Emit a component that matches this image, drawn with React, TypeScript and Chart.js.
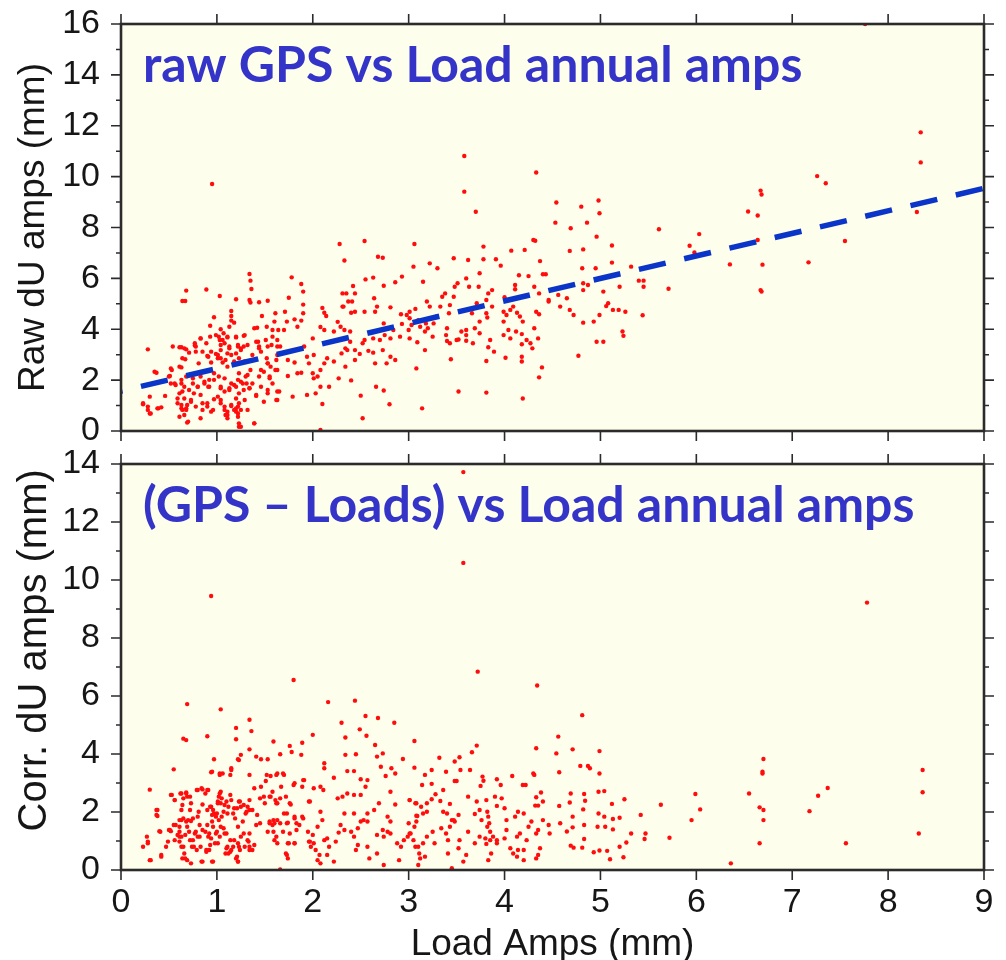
import React, { useEffect, useRef } from 'react';
import { Chart, registerables } from 'chart.js';

Chart.register(...registerables);

// ---------- data ----------
const xTickValues = [0, 1, 2, 3, 4, 5, 6, 7, 8, 9];
const rawYMax = 16;
const corrYMax = 14;
const yLabelStep = 2;
const yMinorStep = 1;

const fitX = [0, 9];
const fitY = [1.57, 9.54];

const topTitle = 'raw GPS vs Load annual amps';
const bottomTitle = '(GPS \u2013 Loads) vs Load annual amps';
const rawYLabel = 'Raw dU amps (mm)';
const corrYLabel = '   Corr. dU amps (mm)';
const xLabel = 'Load Amps (mm)';

// raw GPS amplitude vs load amplitude, x < 2.4
const rawPointsLow: number[][] = [
  [2.28,7.35],[2.33,6.70],[1.34,6.17],[1.35,5.91],[1.36,5.58],[0.68,5.52],[0.89,5.56],[1.03,5.31],[0.64,5.11],[0.67,5.11],
  [1.20,5.18],[1.34,5.15],[1.35,5.05],[1.44,5.06],[1.53,5.12],[1.78,6.04],[1.88,5.78],[1.90,5.48],[1.75,5.24],[1.90,4.97],
  [1.90,4.63],[2.10,4.84],[2.12,4.65],[2.14,4.52],[2.31,5.41],[2.37,5.09],[2.31,4.89],[2.40,4.65],[1.15,4.72],[1.15,4.52],
  [1.15,4.34],[1.18,4.26],[1.13,4.10],[0.97,4.47],[0.93,4.14],[1.04,4.00],[1.07,3.84],[1.06,3.58],[1.02,3.71],[1.11,3.68],
  [1.20,3.68],[1.28,3.74],[1.39,4.04],[1.47,4.52],[1.52,4.10],[1.61,4.63],[1.60,4.30],[1.71,4.69],[1.73,4.30],[1.81,4.39],
  [1.88,4.34],[1.84,4.10],[2.08,4.09],[2.12,3.97],[2.26,4.29],[2.29,4.10],[2.22,3.91],[2.33,3.97],[2.39,3.91],[0.83,3.64],
  [0.89,3.45],[0.77,3.36],[0.66,3.25],[0.61,3.29],[0.54,3.32],[0.28,3.21],[0.37,2.29],[0.53,2.40],[0.51,2.16],[0.64,2.86],
  [0.67,2.82],[0.63,2.50],[0.81,2.66],[0.78,3.12],[0.90,2.95],[0.94,2.69],[0.99,3.03],[1.04,3.18],[1.01,2.86],[1.06,2.69],
  [1.11,3.05],[1.13,3.25],[1.22,3.32],[1.20,3.05],[1.25,3.18],[1.28,3.32],[1.32,3.38],[1.29,2.73],[1.35,2.40],[1.32,2.20],
  [1.23,2.27],[1.25,1.94],[1.20,1.74],[1.15,1.87],[1.08,2.07],[1.02,2.14],[0.97,2.27],[0.92,2.01],[0.87,1.87],[0.83,2.14],
  [0.75,2.07],[0.68,2.14],[0.63,1.87],[0.61,1.48],[0.59,1.09],[0.63,0.89],[0.68,0.83],[0.73,1.22],[0.76,1.48],[0.83,1.42],
  [0.85,1.09],[0.90,1.09],[0.94,0.76],[0.97,1.25],[1.04,1.09],[1.08,0.83],[1.11,0.63],[1.15,0.98],[1.18,0.83],[1.20,1.28],
  [1.23,1.48],[1.28,1.61],[1.31,1.87],[1.34,1.68],[1.41,1.38],[1.22,0.96],[1.22,0.56],[1.23,0.30],[1.25,0.17],[1.39,0.30],
  [1.13,1.61],[1.04,1.68],[1.01,1.35],[0.91,1.74],[0.80,1.74],[0.66,1.74],[0.57,1.81],[0.52,1.87],[0.46,1.38],[0.42,0.93],
  [0.39,0.89],[0.30,1.35],[0.28,0.96],[0.31,0.69],[0.23,1.05],[0.69,0.33],[0.83,0.50],[1.20,0.76],[1.46,2.40],[1.44,2.14],
  [1.52,2.86],[1.53,2.66],[1.56,2.53],[1.61,2.40],[1.55,2.07],[1.63,3.58],[1.66,3.32],[1.70,3.97],[1.74,2.79],[1.74,2.16],
  [1.81,2.69],[1.84,2.27],[1.88,2.29],[1.94,2.92],[1.96,2.66],[2.01,2.99],[2.00,2.27],[2.01,2.07],[2.05,2.14],[2.08,2.40],
  [2.12,2.66],[2.15,2.86],[2.22,2.73],[2.27,2.07],[2.30,3.05],[2.36,3.18],[2.08,1.74],[2.17,1.74],[2.10,1.06],[1.94,1.42],
  [2.03,1.48],[1.79,1.35],[1.65,1.55],[1.63,1.22],[1.46,3.12],[1.41,3.51],[1.44,3.25],[1.58,3.97],[1.57,3.38],[1.64,3.97],
  [1.63,2.99],[1.42,4.06],[1.51,3.58],[1.37,2.99],[1.91,3.32],[2.00,3.64],[2.08,0.04],[0.66,0.63],[0.69,1.02],[0.95,9.71],
];

// extra points read from the dense cluster at x < 1.7, y < 4
const rawPointsDense: number[][] = [
  [0.63,3.29],[0.68,3.21],[0.71,3.08],[0.77,3.45],[0.78,3.32],[0.83,3.64],[0.85,3.12],[0.91,2.92],[0.94,3.12],[0.93,3.71],
  [0.99,3.77],[1.03,3.58],[1.04,3.38],[1.08,3.45],[1.11,3.71],[1.13,3.32],[1.20,3.71],[1.22,3.38],[1.25,3.25],[1.29,3.77],
  [1.01,2.99],[1.04,2.86],[1.09,2.79],[1.15,2.99],[1.18,2.73],[1.23,2.86],[1.11,2.53],[1.43,3.51],[1.44,3.32],[1.53,3.32],
  [1.58,3.71],[1.63,3.32],[1.62,2.79],[1.53,2.66],[1.49,2.33],[1.55,2.14],[1.63,2.40],[1.58,1.87],[1.63,1.55],[1.53,1.61],
  [1.62,1.22],[0.35,2.33],[0.52,2.46],[0.50,2.14],[0.56,1.87],[0.61,2.53],[0.63,2.01],[0.64,1.55],[0.66,1.28],[0.71,1.61],
  [0.75,1.87],[0.80,1.74],[0.87,1.94],[0.92,1.74],[0.97,2.01],[1.04,1.74],[1.08,1.55],[1.13,1.68],[1.18,1.81],[1.22,2.01],
  [1.27,1.87],[1.30,2.14],[1.34,1.68],[1.37,1.87],[0.59,1.28],[0.63,1.02],[0.64,0.83],[0.68,0.89],[0.73,1.15],[0.78,0.96],
  [0.85,0.83],[0.90,0.96],[0.96,0.83],[1.04,1.22],[1.08,0.96],[1.11,0.76],[1.15,1.02],[1.20,0.89],[1.23,1.09],[1.22,0.69],
  [1.25,0.83],[1.32,0.83],[1.29,1.22],[0.23,1.09],[0.28,0.83],[0.30,0.69],[0.38,0.89],[0.61,0.56],[0.70,0.37],[1.11,0.50],
  [1.09,0.63],[1.39,0.30],[1.23,0.17],[1.41,1.42],[1.46,1.74],[1.53,1.48],[1.49,1.15],
];

// raw GPS amplitude vs load amplitude, 2.3 < x < 5.4
const rawPointsMid: number[][] = [
  [3.58,10.81],[3.58,9.41],[3.70,8.62],[4.33,10.16],[4.54,8.98],[4.53,8.19],[4.80,8.82],[4.98,9.06],[4.99,8.56],[4.86,8.19],
  [4.69,7.97],[4.30,7.51],[4.32,7.48],[2.54,7.47],[3.06,7.35],[2.68,6.85],[2.73,6.81],[3.05,6.46],[3.22,6.59],[3.30,6.40],
  [3.47,6.79],[3.62,6.72],[3.78,7.25],[3.78,6.75],[3.91,6.75],[3.96,6.50],[4.07,7.09],[4.21,7.12],[4.37,6.68],[4.43,6.16],
  [4.68,7.08],[4.82,7.14],[4.96,7.64],[5.12,7.29],[5.12,6.62],[5.32,6.46],[5.40,5.91],[4.81,6.40],[4.82,5.81],[4.87,5.74],
  [5.20,5.67],[4.95,6.40],[5.03,5.48],[4.82,5.54],[4.56,5.35],[4.65,5.22],[4.46,5.15],[4.36,5.41],[4.31,5.67],[4.40,6.16],
  [4.25,6.09],[4.15,6.12],[4.11,5.74],[4.11,5.57],[4.00,5.26],[3.87,5.54],[3.83,5.41],[3.81,5.15],[3.74,6.20],[3.73,5.67],
  [3.63,5.67],[3.60,6.00],[3.51,5.81],[3.48,5.67],[3.47,5.28],[3.43,4.95],[3.42,4.63],[3.38,5.41],[3.35,5.28],[3.33,4.89],
  [3.19,5.09],[3.22,4.89],[3.15,5.87],[2.93,6.07],[2.86,5.85],[2.74,5.71],[2.63,6.03],[2.64,5.22],[2.55,5.96],[2.42,5.70],
  [2.44,5.41],[2.35,5.41],[2.32,4.89],[2.41,5.09],[2.44,4.69],[2.54,4.69],[2.67,4.89],[2.65,4.69],[2.74,4.23],[2.81,4.86],
  [2.92,4.59],[3.01,4.69],[3.01,4.43],[3.07,4.80],[3.18,4.23],[3.20,4.04],[3.26,4.23],[3.29,4.50],[3.40,4.04],[3.39,3.77],
  [3.43,3.45],[3.50,3.58],[3.60,3.97],[3.60,3.77],[3.69,4.04],[3.81,4.63],[3.82,4.46],[3.87,4.89],[3.99,4.69],[3.99,4.30],
  [4.02,4.56],[4.06,4.76],[4.09,4.89],[4.13,4.65],[4.16,4.50],[4.19,4.30],[4.12,3.91],[4.04,3.97],[3.99,3.77],[4.06,3.64],
  [4.18,3.81],[4.23,3.58],[4.27,3.45],[4.29,3.25],[4.18,3.41],[4.33,4.69],[4.36,4.59],[4.31,4.04],[4.35,3.64],[4.39,2.50],
  [4.36,2.11],[3.85,3.58],[3.83,3.29],[3.89,3.12],[3.81,2.75],[4.01,2.88],[4.18,2.92],[4.18,2.73],[4.19,1.28],[3.81,1.51],
  [3.52,1.55],[3.14,0.89],[2.80,1.05],[2.74,1.59],[2.66,1.74],[2.50,1.39],[2.52,0.50],[2.40,1.99],[3.08,2.46],[3.17,3.18],
  [3.09,3.49],[3.01,3.64],[3.00,3.97],[2.93,4.21],[2.91,3.71],[2.84,3.97],[2.81,3.64],[2.75,3.77],[2.70,3.58],[2.73,3.18],
  [2.81,2.92],[2.86,2.79],[2.77,2.66],[2.65,2.66],[2.63,3.08],[2.58,3.15],[2.49,3.03],[2.44,2.79],[2.44,3.18],[2.39,3.51],
  [2.34,3.25],[2.34,2.53],[2.54,3.58],[2.52,3.45],[2.63,3.64],[3.17,3.91],[3.25,3.71],[3.40,3.54],[3.52,3.60],[3.60,3.55],
  [3.44,2.82],[4.77,2.96],[4.96,3.51],[5.03,3.51],[4.93,4.30],[4.82,4.26],[4.72,4.56],[4.68,4.76],[4.58,4.89],[4.46,5.09],
  [4.99,4.56],[5.06,4.91],[5.13,4.76],[5.19,4.76],[5.26,4.69],[5.23,3.91],[5.24,3.74],[5.08,5.02],[2.98,4.56],[3.03,4.17],
  [3.12,4.10],[3.10,4.36],[3.66,4.63],[3.71,5.02],[3.74,4.30],[3.74,3.84],[3.67,3.45],[3.55,3.91],
];

// raw GPS amplitude vs load amplitude, x > 5.4
const rawPointsHigh: number[][] = [
  [7.76,16.0],[8.34,11.74],[8.34,10.56],[8.30,8.61],[7.26,10.02],[7.35,9.74],[7.55,7.47],[7.17,6.63],[6.67,9.45],[6.68,9.30],
  [6.54,8.63],[6.64,8.47],[6.64,7.51],[6.69,6.54],[6.67,5.54],[6.68,5.48],[6.35,6.55],[6.03,7.74],[5.93,7.28],[5.98,7.02],
  [5.61,7.93],[5.71,5.59],[5.45,5.91],[5.45,5.67],[5.44,4.55],
];

// corrected (GPS - loads) amplitude vs load amplitude, x < 3.1
const corrPointsLow: number[][] = [
  [1.80,6.55],[0.69,5.72],[1.04,5.54],[0.65,4.53],[0.68,4.48],[0.90,4.61],[1.20,4.90],[1.20,4.51],[1.34,5.18],[1.36,4.79],
  [1.34,4.16],[0.55,3.47],[0.30,2.77],[0.97,3.82],[0.94,3.37],[1.03,3.28],[1.15,3.51],[1.23,3.79],[1.25,3.97],[1.41,3.91],
  [1.46,3.82],[1.53,3.82],[1.59,4.43],[1.66,3.99],[1.76,4.28],[1.89,4.39],[1.78,4.07],[1.88,3.97],[2.00,4.66],[2.16,5.79],
  [2.44,5.84],[2.30,5.08],[2.55,5.31],[2.68,5.24],[2.85,5.08],[2.49,4.85],[2.56,4.63],[2.34,4.57],[2.65,4.31],[2.45,3.99],
  [2.34,3.97],[2.67,3.91],[2.73,4.02],[2.94,3.83],[3.06,4.45],[3.06,3.53],[2.71,3.56],[2.82,3.51],[2.86,3.33],[2.76,3.24],
  [2.50,3.13],[2.57,3.10],[2.36,3.41],[2.43,3.41],[2.12,3.68],[2.12,3.51],[2.22,3.18],[2.81,2.70],[2.69,2.30],[2.86,2.26],
  [3.01,2.41],[3.07,2.30],[3.09,1.86],[3.00,1.61],[1.22,3.82],[1.15,3.45],[1.06,3.33],[0.80,2.76],[0.90,2.76],[0.85,2.78],
  [0.52,2.59],[0.63,2.64],[0.68,2.67],[0.56,2.41],[0.69,2.53],[0.64,2.24],[0.73,2.30],[0.38,2.07],[0.38,1.86],[0.40,1.34],
  [0.50,1.38],[0.52,1.34],[0.57,1.55],[0.61,1.49],[0.63,1.72],[0.68,1.67],[0.73,1.69],[0.80,1.84],[0.85,2.26],[0.90,2.07],
  [0.94,2.18],[0.97,1.95],[1.01,2.36],[1.04,2.30],[1.02,2.53],[1.08,2.24],[1.04,2.70],[1.15,2.41],[1.18,2.13],[1.11,1.95],
  [1.23,2.36],[1.25,2.18],[1.32,2.18],[1.37,2.07],[1.30,1.95],[1.34,2.41],[1.39,2.82],[1.46,2.87],[1.49,2.53],[1.56,2.53],
  [1.61,2.41],[1.63,2.30],[1.42,1.90],[1.55,1.67],[1.60,1.61],[1.63,1.72],[1.58,1.55],[1.70,1.95],[1.74,1.63],[1.81,1.78],
  [1.89,1.84],[1.86,1.55],[1.67,2.87],[1.63,3.33],[1.70,3.28],[1.56,3.24],[1.51,3.07],[1.58,2.70],[1.72,2.53],[1.77,2.26],
  [1.81,2.99],[1.91,3.10],[1.89,2.87],[1.96,2.36],[2.01,2.82],[2.08,2.87],[2.11,2.76],[2.08,2.01],[2.10,1.72],[2.05,1.49],
  [2.00,1.21],[1.96,0.98],[1.98,0.80],[2.03,0.69],[2.07,0.52],[2.05,0.34],[2.08,0.23],[2.12,1.03],[2.15,1.09],[2.17,0.80],
  [2.15,0.52],[2.22,0.29],[2.24,0.98],[2.29,1.55],[2.27,1.29],[2.33,1.38],[2.40,1.32],[2.43,1.15],[2.47,1.44],[2.50,1.67],
  [2.53,1.72],[2.57,1.67],[2.26,2.47],[2.31,2.53],[2.36,2.64],[2.43,2.59],[2.50,2.59],[2.55,2.87],[2.33,1.95],[2.43,1.95],
  [2.57,1.95],[2.64,2.07],[2.47,0.86],[2.45,0.69],[2.57,0.80],[2.59,0.40],[2.67,0.57],[2.67,1.21],[2.74,1.15],[2.78,1.32],
  [2.73,1.38],[2.81,1.26],[2.78,1.84],[2.81,1.67],[2.88,0.92],[2.92,0.80],[2.95,1.03],[2.90,0.34],[2.74,0.17],[2.99,1.15],
  [3.02,1.26],[3.06,1.49],[3.07,0.80],[3.11,0.57],[0.23,0.80],[0.28,0.92],[0.31,0.34],[0.42,0.52],[0.47,0.80],[0.56,1.03],
  [0.59,1.21],[0.63,0.80],[0.66,0.57],[0.64,0.40],[0.69,0.34],[0.73,0.23],[0.61,1.15],[0.75,1.03],[0.76,0.80],[0.80,1.15],
  [0.83,0.80],[0.85,0.29],[0.89,0.63],[0.92,0.69],[0.94,1.09],[0.95,0.29],[0.99,1.26],[1.01,0.92],[1.04,1.49],[1.08,1.26],
  [1.11,0.80],[1.09,0.57],[1.15,0.69],[1.18,1.03],[1.20,0.40],[1.22,0.29],[1.23,0.80],[1.28,1.26],[1.32,1.03],[1.34,0.80],
  [1.37,0.69],[1.39,0.86],[1.25,1.15],[1.27,1.67],[1.22,1.49],[0.90,1.55],[0.85,1.38],[0.82,1.55],[0.78,1.32],[0.71,1.32],
  [0.69,1.49],[0.95,1.67],[0.99,1.84],[1.02,1.72],[0.92,1.26],[1.53,1.32],[1.60,1.03],[1.63,0.92],[1.72,0.57],[1.75,0.92],
  [1.81,0.92],[1.74,0.40],[1.66,0.02],[0.94,9.45],
];

// extra points read from the dense cluster at 0.2 < x < 2, y < 3.4
const corrPointsDense: number[][] = [
  [0.53,2.59],[0.56,2.41],[0.62,2.64],[0.65,2.47],[0.68,2.64],[0.72,2.53],[0.79,2.76],[0.84,2.82],[0.88,2.64],[0.91,2.76],
  [1.03,2.64],[1.05,2.47],[1.01,2.30],[1.10,2.36],[1.14,2.59],[1.12,2.18],[0.93,2.18],[0.96,2.07],[0.95,1.90],[1.00,1.95],
  [1.05,1.84],[1.07,2.01],[1.17,1.95],[1.21,2.13],[1.19,1.78],[1.24,2.36],[1.28,2.24],[1.31,2.01],[1.34,2.07],[0.37,2.07],
  [0.37,1.90],[0.51,1.38],[0.55,1.55],[0.61,1.72],[0.65,1.78],[0.70,1.72],[0.75,1.78],[0.72,2.07],[0.63,2.07],[0.81,2.01],
  [0.61,1.32],[0.63,1.15],[0.67,1.21],[0.72,1.03],[0.77,1.26],[0.82,1.15],[0.88,1.32],[0.91,1.15],[0.96,1.49],[1.00,1.32],
  [1.03,1.15],[1.07,1.44],[1.10,1.26],[1.14,1.03],[0.74,0.80],[0.79,0.69],[0.89,0.69],[0.93,0.86],[0.98,0.92],[1.10,0.75],
  [1.14,0.63],[1.17,0.80],[1.22,0.92],[1.24,0.69],[1.29,0.80],[1.33,0.98],[1.34,0.69],[1.21,0.46],[1.22,0.29],[1.12,0.57],
  [0.27,1.15],[0.28,0.98],[0.41,1.32],[0.49,0.98],[0.42,0.46],[0.30,0.34],[0.67,0.40],[0.84,0.29],[0.96,0.29],[0.65,0.80],
  [0.61,0.98],[1.34,1.26],[1.41,1.55],[1.45,1.61],[1.55,1.61],[1.59,1.72],[1.66,1.61],[1.73,1.61],[1.59,1.32],[1.62,1.15],
  [1.69,1.32],[1.76,1.26],[1.83,1.38],[1.45,2.47],[1.50,2.30],[1.55,2.53],[1.62,2.30],[1.66,2.47],[1.76,2.30],[1.73,1.95],
  [1.81,1.84],[1.83,1.61],[1.90,1.78],[1.97,2.36],[1.74,0.92],[1.81,0.92],[1.73,0.52],[1.95,1.32],[1.97,0.98],[2.01,0.92],
  [0.95,3.39],[1.03,3.33],[1.14,3.28],[1.34,3.28],[1.52,3.28],[1.62,3.28],[1.69,3.33],[1.80,2.93],[1.90,3.10],
];

// corrected (GPS - loads) amplitude vs load amplitude, x > 3.0
const corrPointsHigh: number[][] = [
  [3.57,13.72],[3.57,10.59],[7.78,9.22],[3.72,6.84],[4.34,6.36],[4.81,5.34],[4.56,4.60],[4.33,4.20],[4.54,4.02],[4.71,4.16],
  [4.99,4.10],[3.71,4.29],[3.66,4.06],[3.32,3.87],[3.48,3.74],[3.53,3.89],[3.39,3.39],[3.54,3.45],[3.64,3.45],[3.17,3.28],
  [3.24,3.45],[3.14,2.93],[3.24,2.97],[3.48,3.07],[3.50,3.07],[3.36,2.76],[3.77,3.22],[3.78,3.08],[3.75,2.90],[3.92,3.13],
  [3.96,2.93],[4.08,3.24],[4.19,2.93],[4.22,2.93],[4.30,3.33],[4.31,3.28],[4.57,3.37],[4.79,3.59],[4.87,3.59],[4.89,3.51],
  [4.99,3.33],[4.38,2.67],[4.33,2.51],[4.40,2.36],[4.35,2.22],[4.32,2.22],[4.69,2.64],[4.83,2.62],[4.84,2.39],[4.98,2.70],
  [5.04,2.72],[4.57,2.21],[4.68,2.33],[5.12,2.28],[5.25,2.44],[5.13,1.76],[5.20,1.80],[4.98,1.95],[5.04,1.84],[5.05,1.49],
  [4.97,1.49],[5.13,1.40],[4.82,2.09],[4.71,1.84],[4.71,1.47],[4.83,1.55],[4.83,1.07],[4.81,0.77],[4.58,1.61],[4.65,1.33],
  [4.69,0.84],[4.72,0.77],[4.93,0.61],[4.99,0.67],[5.07,0.66],[5.10,0.37],[5.20,0.80],[5.24,0.44],[5.27,0.95],[5.32,1.26],
  [5.42,1.90],[5.47,1.26],[5.46,1.07],[5.63,2.25],[5.72,1.11],[5.95,1.72],[5.99,2.62],[6.04,2.09],[3.01,2.41],[3.08,2.30],
  [3.13,2.18],[3.19,2.30],[3.24,2.44],[3.28,2.61],[3.33,2.38],[3.43,2.28],[3.08,1.87],[3.08,1.67],[3.15,1.95],[3.19,2.01],
  [3.36,2.01],[3.40,1.95],[3.45,1.72],[3.48,1.67],[3.52,1.90],[3.43,1.49],[3.47,1.72],[3.01,1.26],[3.05,1.03],[3.10,0.80],
  [3.15,0.92],[3.19,1.15],[3.25,1.32],[3.27,0.92],[3.34,1.44],[3.39,1.26],[3.41,1.03],[3.53,1.03],[3.41,0.57],[3.12,0.40],
  [3.10,0.17],[3.17,0.46],[3.45,0.06],[3.57,0.29],[3.60,0.52],[3.52,0.75],[3.62,2.53],[3.62,1.32],[3.69,1.93],[3.71,2.36],
  [3.74,2.07],[3.76,1.72],[3.81,2.41],[3.82,2.01],[3.83,1.84],[3.84,1.61],[3.82,1.49],[3.85,1.32],[3.74,1.15],[3.80,1.09],
  [3.85,1.03],[3.88,1.15],[3.92,1.03],[3.86,0.57],[3.83,0.34],[3.92,2.21],[3.90,2.53],[3.97,2.47],[4.00,2.13],[4.02,1.72],
  [4.02,1.38],[4.00,1.09],[4.06,0.75],[4.09,0.57],[4.13,0.46],[4.14,0.69],[4.20,0.69],[4.11,1.84],[4.14,2.01],[4.20,1.95],
  [4.23,1.03],[4.25,1.49],[4.16,1.26],[4.13,1.15],[4.20,0.34],[4.28,1.67],[4.33,1.26],[4.35,1.38],[4.40,1.72],[4.46,1.55],
  [4.47,1.26],[4.35,0.52],[4.33,0.40],[4.37,0.75],[3.69,0.92],[3.81,0.90],[3.92,0.92],
  [6.70,3.83],[6.69,3.39],[6.69,3.33],[8.36,3.45],[8.36,2.68],[8.32,1.26],[6.55,2.64],[6.66,2.16],[6.70,2.07],[6.70,1.72],
  [6.66,0.92],[6.36,0.23],[7.18,2.03],[7.27,2.56],[7.37,2.83],[7.56,0.92],
];

// ---------- styling ----------
const PLOT_BG = '#fefeec';
const FRAME = '#2b2b2b';
const DOT = '#ff0d0d';
const FIT = '#0a35c8';
const TITLE_BLUE = '#3434c8';
const TEXT = '#161616';
const TICK_FONT = "'Liberation Sans', Arial, Helvetica, sans-serif";
const TITLE_FONT = "Lato, 'Open Sans', sans-serif";

const decorPlugin = {
  id: 'panelDecor',
  beforeDraw(chart: any) {
    const { ctx, chartArea: a } = chart;
    ctx.save();
    ctx.fillStyle = PLOT_BG;
    ctx.fillRect(a.left, a.top, a.right - a.left, a.bottom - a.top);
    ctx.restore();
  },
  afterDraw(chart: any, _args: any, opts: any) {
    const { ctx, chartArea: a, scales } = chart;
    const xs = scales.x;
    const ys = scales.y;
    ctx.save();
    ctx.strokeStyle = FRAME;
    ctx.lineWidth = 1.6;
    ctx.beginPath();
    for (const v of xTickValues) {
      const px = xs.getPixelForValue(v);
      ctx.moveTo(px, a.bottom);
      ctx.lineTo(px, a.bottom + 10);
      ctx.moveTo(px, a.top);
      ctx.lineTo(px, a.top - 10);
    }
    for (let v = 0; v <= opts.yMax + 1e-9; v += yMinorStep) {
      const py = ys.getPixelForValue(v);
      const len = Math.abs(v % yLabelStep) < 1e-9 ? 10 : 5;
      ctx.moveTo(a.left, py);
      ctx.lineTo(a.left - len, py);
      ctx.moveTo(a.right, py);
      ctx.lineTo(a.right + len, py);
    }
    ctx.stroke();
    ctx.lineWidth = 2.6;
    ctx.strokeRect(a.left, a.top, a.right - a.left, a.bottom - a.top);
    // panel title
    ctx.fillStyle = TITLE_BLUE;
    ctx.font = `bold ${opts.titleSize}px ${TITLE_FONT}`;
    ctx.textBaseline = 'alphabetic';
    ctx.textAlign = 'left';
    ctx.fillText(opts.title, a.left + 22, a.top + 58);
    ctx.restore();
  },
};

const noPad = (s: any) => {
  s.paddingTop = 0;
  s.paddingBottom = 0;
  s.paddingLeft = 0;
  s.paddingRight = 0;
};

type PanelProps = {
  top: number;
  height: number;
  points: number[][];
  yMax: number;
  yLabel: string;
  yLabelSize: number;
  title: string;
  showX: boolean;
  showFit: boolean;
  padTop: number;
  xHeight: number;
};

function Panel(p: PanelProps) {
  const ref = useRef<HTMLCanvasElement | null>(null);
  useEffect(() => {
    if (!ref.current) return;
    const datasets: any[] = [];
    if (p.showFit) {
      datasets.push({
        type: 'line',
        data: fitX.map((x, i) => ({ x, y: fitY[i] })),
        showLine: true,
        borderColor: FIT,
        borderWidth: 5.5,
        borderDash: [27.5, 19],
        borderDashOffset: 26,
        pointRadius: 0,
        fill: false,
      });
    }
    datasets.push({
      type: 'scatter',
      data: p.points.map(([x, y]) => ({ x, y })),
      pointRadius: 2.2,
      pointBorderWidth: 0,
      pointBackgroundColor: DOT,
      backgroundColor: DOT,
    });
    const chart = new Chart(ref.current, {
      type: 'scatter',
      data: { datasets },
      plugins: [decorPlugin],
      options: {
        animation: false,
        responsive: false,
        devicePixelRatio: 1,
        layout: { padding: { left: 0, right: 22, top: p.padTop, bottom: 0 } },
        plugins: {
          legend: { display: false },
          tooltip: { enabled: false },
          panelDecor: { yMax: p.yMax, title: p.title, titleSize: 50 },
        } as any,
        scales: {
          x: {
            type: 'linear',
            min: 0,
            max: 9,
            ticks: {
              display: p.showX,
              stepSize: 1,
              padding: 12,
              color: TEXT,
              font: { family: TICK_FONT, size: 34 },
            },
            grid: { display: false, drawTicks: false },
            border: { display: false },
            title: {
              display: p.showX,
              text: xLabel,
              color: TEXT,
              font: { family: TICK_FONT, size: 37, lineHeight: 1 },
              padding: { top: 0, bottom: -3 },
            },
            afterFit: (s: any) => {
              noPad(s);
              s.height = p.xHeight;
            },
          },
          y: {
            type: 'linear',
            min: 0,
            max: p.yMax,
            ticks: {
              stepSize: yLabelStep,
              padding: 21,
              color: TEXT,
              font: { family: TICK_FONT, size: 34 },
            },
            grid: { display: false, drawTicks: false },
            border: { display: false },
            title: {
              display: true,
              text: p.yLabel,
              color: TEXT,
              font: { family: TICK_FONT, size: p.yLabelSize, lineHeight: 1 },
              padding: { top: 15, bottom: 0 },
            },
            afterFit: (s: any) => {
              noPad(s);
              s.width = 121;
            },
          },
        },
      } as any,
    });
    return () => chart.destroy();
  }, []);
  return (
    <canvas
      ref={ref}
      width={1006}
      height={p.height}
      style={{ position: 'absolute', left: 0, top: p.top, width: 1006, height: p.height }}
    />
  );
}

export default function App() {
  const rawPoints = [...rawPointsLow, ...rawPointsDense, ...rawPointsMid, ...rawPointsHigh];
  const corrPoints = [...corrPointsLow, ...corrPointsDense, ...corrPointsHigh];
  return (
    <div style={{ position: 'absolute', left: 0, top: 0, width: 1006, height: 960, background: '#ffffff', overflow: 'hidden' }}>
      <Panel
        top={0}
        height={445}
        points={rawPoints}
        yMax={rawYMax}
        yLabel={rawYLabel}
        yLabelSize={37}
        title={topTitle}
        showX={false}
        showFit={true}
        padTop={24}
        xHeight={14}
      />
      <Panel
        top={445}
        height={515}
        points={corrPoints}
        yMax={corrYMax}
        yLabel={corrYLabel}
        yLabelSize={40}
        title={bottomTitle}
        showX={true}
        showFit={false}
        padTop={19}
        xHeight={90}
      />
    </div>
  );
}
